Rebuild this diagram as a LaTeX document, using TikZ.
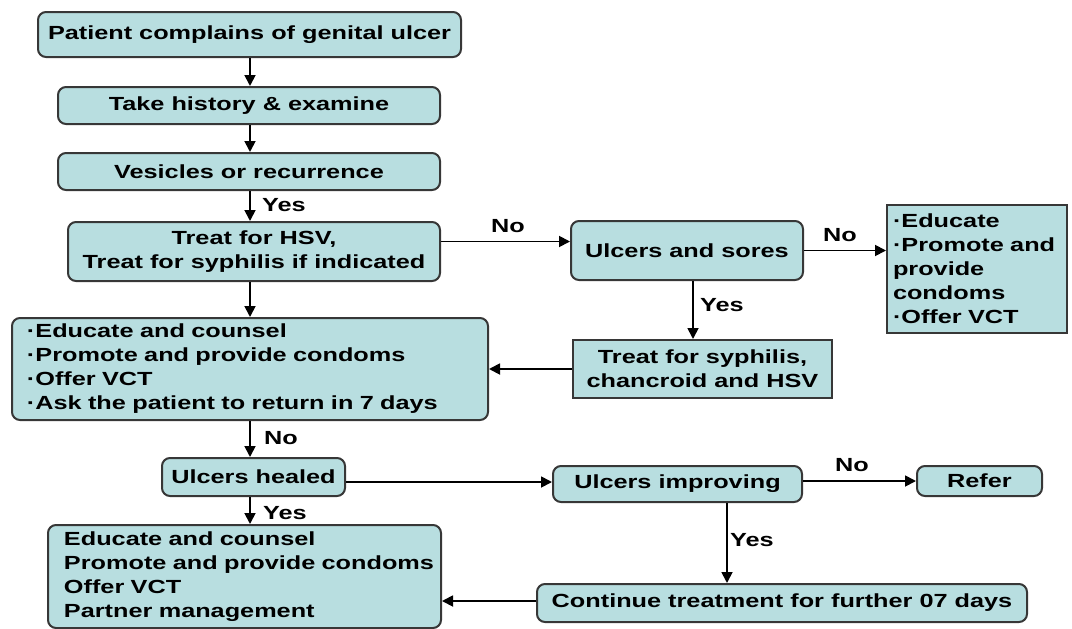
\documentclass[tikz,border=0pt]{standalone}
\usepackage{fontspec}
\newfontfamily\diagfont{Liberation Sans}[FakeStretch=1.33]
\usetikzlibrary{arrows.meta,calc}
\definecolor{boxfill}{RGB}{184,222,224}
\definecolor{boxline}{RGB}{55,55,55}
\newcommand{\ind}{\hspace*{12pt}}
\begin{document}
\begin{tikzpicture}[x=1pt,y=-1pt,
  every node/.style={font=\diagfont\bfseries\fontsize{19}{24}\selectfont, text=black},
  rbox/.style={draw=boxline, fill=boxfill, line width=2pt, rounded corners=8pt, inner sep=0pt},
  sbox/.style={draw=boxline, fill=boxfill, line width=2pt, inner sep=0pt},
  arr/.style={line width=1.8pt, -{Triangle[length=11pt,width=11pt]}},
  lbl/.style={inner sep=0pt}]
\useasboundingbox (0,0) rectangle (1072,629);
\coordinate (ax) at (250,0);
\coordinate (bx) at (693,0);
\coordinate (cx) at (727,0);
% nodes
\node[rbox, minimum width=423, minimum height=45] (n1) at (249.5,34.5) {Patient complains of genital ulcer};
\node[rbox, minimum width=382, minimum height=37] (n2) at (249,105.5) {Take history \& examine};
\node[rbox, minimum width=382, minimum height=37] (n3) at (249,171.5) {Vesicles or recurrence};
\node[rbox, minimum width=372, minimum height=59, align=center] (n4) at (254,251.5) {Treat for HSV,\\Treat for syphilis if indicated};
\node[rbox, minimum width=232, minimum height=59] (n5) at (687,250.5) {Ulcers and sores};
\node[sbox, minimum height=128, text width=172, inner xsep=4pt, align=left] (n6) at (977,269) {\hspace*{2pt}·Educate\\\hspace*{2pt}·Promote and\\\hspace*{2pt}provide\\\hspace*{2pt}condoms\\\hspace*{2pt}·Offer VCT};
\node[sbox, minimum width=259, minimum height=58, align=center] (n7) at (702.5,369) {Treat for syphilis,\\chancroid and HSV};
\node[rbox, minimum height=102, text width=446, inner xsep=15pt, align=left] (n8) at (250,369) {·Educate and counsel\\·Promote and provide condoms\\·Offer VCT\\·Ask the patient to return in 7 days};
\node[rbox, minimum width=183, minimum height=38] (n9) at (253.5,477) {Ulcers healed};
\node[rbox, minimum width=249, minimum height=36] (n10) at (677.5,484) {Ulcers improving};
\node[rbox, minimum width=125, minimum height=30] (n11) at (979.5,481) {Refer};
\node[rbox, minimum width=490, minimum height=38] (n12) at (782,603) {Continue treatment for further 07 days};
\node[rbox, minimum height=103, text width=385, inner xsep=4pt, align=left] (n13) at (244.5,576.5) {\ind Educate and counsel\\\ind Promote and provide condoms\\\ind Offer VCT\\\ind Partner management};
% connectors
\draw[arr] (n1.south -| ax) -- (n2.north -| ax);
\draw[arr] (n2.south -| ax) -- (n3.north -| ax);
\draw[arr] (n3.south -| ax) -- (n4.north -| ax);
\draw[arr] ($(n4.east)+(0,-10)$) -- ($(n5.west)+(0,-9)$);
\draw[arr] (n5.east) -- (n6.west |- n5.east);
\draw[arr] (n5.south -| bx) -- (n7.north -| bx);
\draw[arr] (n7.west) -- (n8.east);
\draw[arr] (n4.south -| ax) -- (n8.north -| ax);
\draw[arr] (n8.south -| ax) -- (n9.north -| ax);
\draw[arr] (n9.south -| ax) -- (n13.north -| ax);
\draw[arr] ($(n9.east)+(0,5)$) -- ($(n10.west)+(0,-2)$);
\draw[arr] (n10.east |- n11.west) -- (n11.west);
\draw[arr] (n10.south -| cx) -- (n12.north -| cx);
\draw[arr] ($(n12.west)+(0,-2)$) -- (n13.east |- {$(n12.west)+(0,-2)$});
% labels
\node[lbl] (l1) at (284,205) {Yes};
\node[lbl] (l2) at (508,226) {No};
\node[lbl] (l3) at (840,235) {No};
\node[lbl] (l4) at (722,305) {Yes};
\node[lbl] (l5) at (281,438) {No};
\node[lbl] (l6) at (285,513) {Yes};
\node[lbl] (l7) at (852,465) {No};
\node[lbl] (l8) at (752,540) {Yes};
\end{tikzpicture}
\end{document}
